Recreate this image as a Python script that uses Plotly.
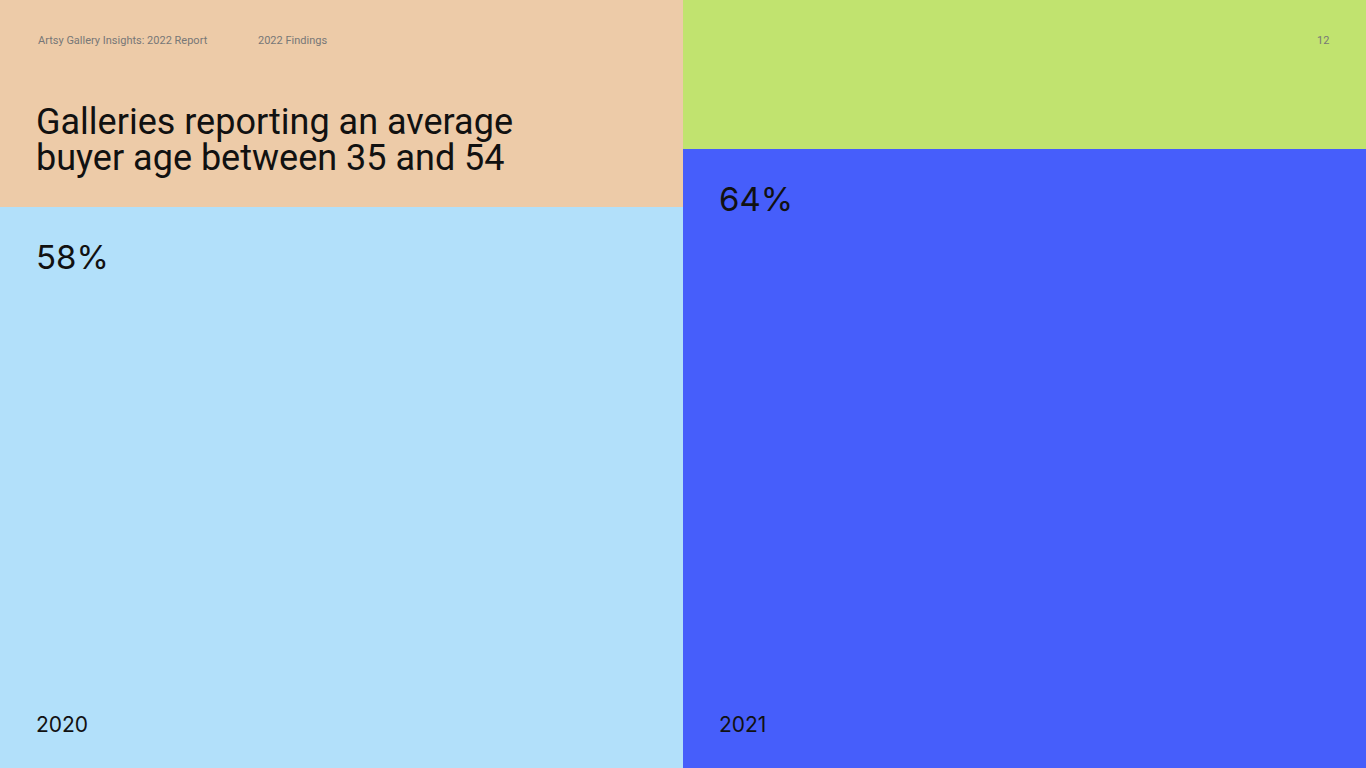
import plotly.graph_objects as go

years = ["2020", "2021"]
values = [58, 64]
bar_colors = ["#B2E0FA", "#465EFB"]
rest_colors = ["#EDCBA8", "#C1E36F"]
title_lines = ["Galleries reporting an average", "buyer age between 35 and 54"]

rest = [100 - v for v in values]
fig = go.Figure()
fig.add_bar(x=years, y=values, marker=dict(color=bar_colors, line_width=0), hoverinfo="skip")
fig.add_bar(x=years, y=rest, marker=dict(color=rest_colors, line_width=0), hoverinfo="skip")

font = "Inter, Roboto, sans-serif"
tfont = "Roboto, Inter, sans-serif"
ann = []
for i, (yr, v) in enumerate(zip(years, values)):
    ann.append(dict(x=i, xshift=-308, y=v, yshift=-28, text=f"{v}%", showarrow=False,
                    xanchor="left", yanchor="top", font=dict(size=33, color="#111", family=font)))
    ann.append(dict(x=i, xshift=-308, y=0, yshift=29, text=yr, showarrow=False,
                    xanchor="left", yanchor="bottom", font=dict(size=21, color="#111", family=font)))
ann += [
    dict(x=36/1366, y=1-40/768, xref="paper", yref="paper", text="Artsy Gallery Insights: 2022 Report",
         showarrow=False, xanchor="left", yanchor="middle", font=dict(size=11, color="#777", family=tfont)),
    dict(x=256/1366, y=1-40/768, xref="paper", yref="paper", text="2022 Findings",
         showarrow=False, xanchor="left", yanchor="middle", font=dict(size=11, color="#777", family=tfont)),
    dict(x=1331/1366, y=1-40/768, xref="paper", yref="paper", text="12",
         showarrow=False, xanchor="right", yanchor="middle", font=dict(size=11, color="#777", family=tfont)),
]
for k, line in enumerate(title_lines):
    ann.append(dict(x=34/1366, y=1-(122+36*k)/768, xref="paper", yref="paper", text=line,
                    showarrow=False, xanchor="left", yanchor="middle",
                    font=dict(size=36, color="#111", family=tfont)))

fig.update_layout(
    width=1366, height=768, margin=dict(l=0, r=0, t=0, b=0),
    barmode="stack", bargap=0, showlegend=False,
    xaxis=dict(visible=False, range=[-0.5, 1.5]),
    yaxis=dict(visible=False, range=[0, 79.4]),
    plot_bgcolor="white", paper_bgcolor="white",
    annotations=ann,
)
fig.write_html("out.html", config={"displayModeBar": False},
               post_script="document.body.style.margin='0';document.body.style.overflow='hidden';")
